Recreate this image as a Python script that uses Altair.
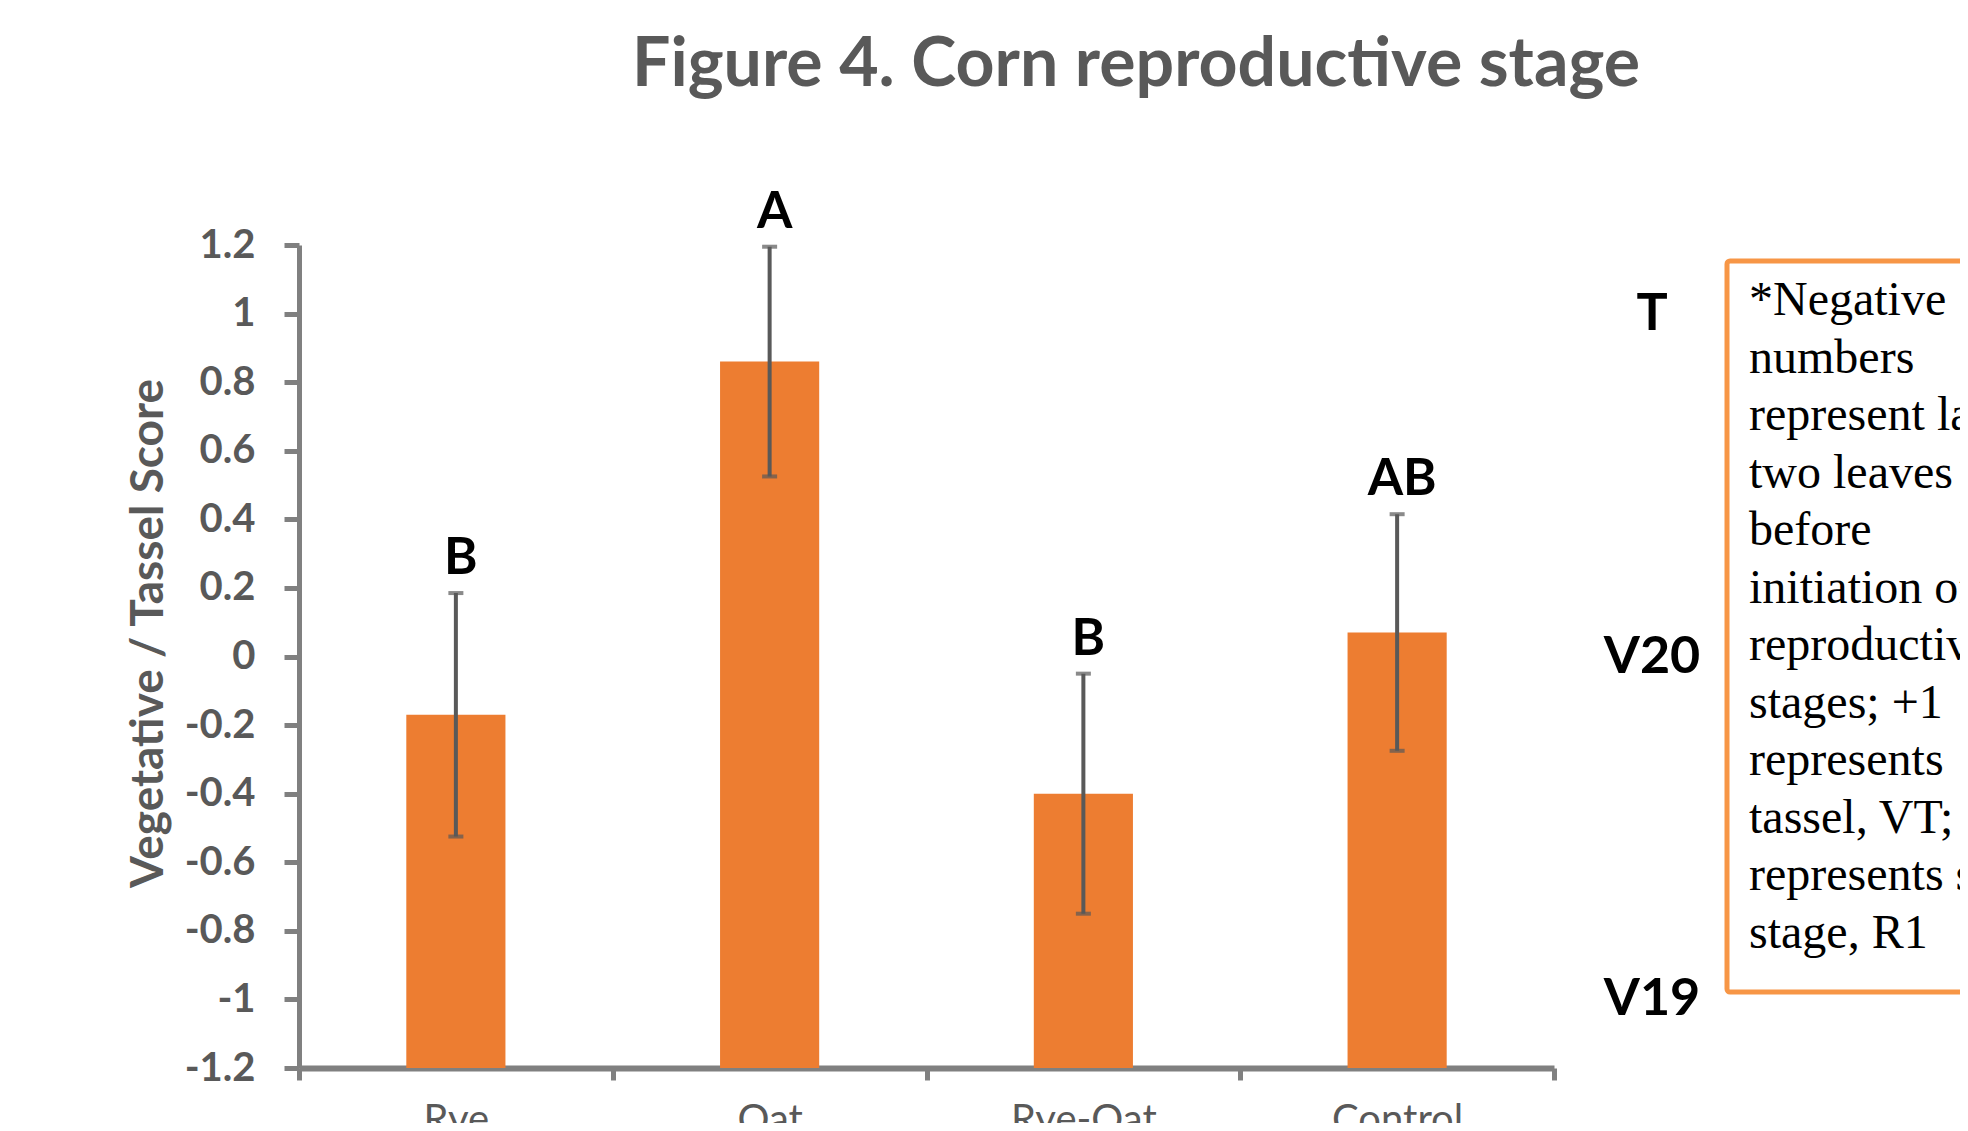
import altair as alt
import pandas as pd

# ---- data ----
categories = ["Rye", "Oat", "Rye-Oat", "Control"]
means = [-0.17, 0.86, -0.40, 0.07]
errors = [0.355, 0.335, 0.35, 0.345]
letters = ["B", "A", "B", "AB"]
y_ticks = [-1.2, -1.0, -0.8, -0.6, -0.4, -0.2, 0.0, 0.2, 0.4, 0.6, 0.8, 1.0, 1.2]
stage_values = [1, 0, -1]
stage_labels = ["T", "V20", "V19"]
note_lines = [
    "*Negative",
    "numbers",
    "represent last",
    "two leaves",
    "before",
    "initiation of",
    "reproductive",
    "stages; +1",
    "represents",
    "tassel, VT; +2",
    "represents silking",
    "stage, R1",
]
title_text = "Figure 4. Corn reproductive stage"
y_title = "Vegetative / Tassel Score"

df = pd.DataFrame({"cat": categories, "mean": means, "err": errors, "letter": letters})
df["hi"] = df["mean"] + df["err"]
df["lo"] = df["mean"] - df["err"]

W, H = 1255, 823
GRAY_TXT = "#595959"
GRAY_AX = "#808080"
ORANGE = "#ED7D31"

x_enc = alt.X(
    "cat:N",
    sort=categories,
    scale=alt.Scale(paddingInner=0, paddingOuter=0),
    axis=alt.Axis(
        title=None, labelAngle=0, labelFont="Lato", labelFontSize=40,
        labelColor=GRAY_TXT, labelPadding=20, tickBand="extent",
        tickSize=12, tickWidth=5, tickColor=GRAY_AX,
        domainColor=GRAY_AX, domainWidth=6, grid=False,
    ),
)
y_scale = alt.Scale(domain=[-1.2, 1.2], nice=False, zero=False)
y_axis = alt.Axis(
    values=y_ticks, format=".1~f",
    labelExpr="replace(datum.label, '\u2212', '-')",
    title=y_title, titleFont="Lato", titleFontSize=46, titleFontWeight="bold",
    titleColor=GRAY_TXT, titleAngle=270, titleX=-151, titleY=388,
    titleAlign="center", titleBaseline="middle",
    labelFont="Lato", labelFontSize=40, labelFontWeight="bold",
    labelColor=GRAY_TXT, labelPadding=29, tickSize=15, tickWidth=5,
    tickColor=GRAY_AX, domainColor=GRAY_AX, domainWidth=5, grid=False,
)

base = alt.Chart(df).encode(x=x_enc)

bars = base.mark_bar(color=ORANGE, width=alt.RelativeBandSize(0.316)).encode(
    y=alt.Y("mean:Q", scale=y_scale, axis=y_axis),
    y2=alt.datum(-1.2),
)
err_rule = base.mark_rule(color=GRAY_TXT, strokeWidth=4).encode(
    y=alt.Y("lo:Q", scale=y_scale), y2="hi:Q"
)
cap_hi = base.mark_tick(color=GRAY_TXT, size=15, thickness=4).encode(
    y=alt.Y("hi:Q", scale=y_scale)
)
cap_lo = base.mark_tick(color=GRAY_TXT, size=15, thickness=4).encode(
    y=alt.Y("lo:Q", scale=y_scale)
)
letter_txt = base.mark_text(
    font="Lato", fontSize=51, fontWeight="bold", color="black",
    align="center", baseline="alphabetic", dx=5, dy=-19,
).encode(y=alt.Y("hi:Q", scale=y_scale), text="letter:N")

stages_df = pd.DataFrame({"v": stage_values, "t": stage_labels})
stages = alt.Chart(stages_df).mark_text(
    font="Lato", fontSize=52, fontWeight="bold", color="black",
    align="center", baseline="middle",
).encode(x=alt.value(1353), y=alt.Y("v:Q", scale=y_scale), text="t:N")

one = pd.DataFrame({"title": [title_text], "note": ["\n".join(note_lines)]})
title = alt.Chart(one).mark_text(
    font="Lato", fontSize=68, fontWeight="bold", color=GRAY_TXT,
    align="center", baseline="alphabetic",
).encode(x=alt.value(837), y=alt.value(-159), text="title:N")

box = alt.Chart(one).mark_rect(
    fill="transparent", stroke="#F79646", strokeWidth=5, cornerRadius=3
).encode(x=alt.value(1428), x2=alt.value(2100), y=alt.value(16), y2=alt.value(747))

note = alt.Chart(one).mark_text(
    font="Liberation Serif", fontSize=48, color="black", align="left",
    baseline="alphabetic", lineBreak="\n", lineHeight=57.5,
).encode(x=alt.value(1450), y=alt.value(70), text="note:N")

chart = alt.layer(
    bars, err_rule, cap_hi, cap_lo, letter_txt, stages, title, box, note
).properties(
    width=W, height=H,
    background="white",
    autosize=alt.AutoSizeParams(type="none"),
    padding={"left": 291, "top": 237, "right": 406, "bottom": 55},
).configure_view(strokeWidth=0)

chart.save("out.html", embed_options={"renderer": "svg", "actions": False})
